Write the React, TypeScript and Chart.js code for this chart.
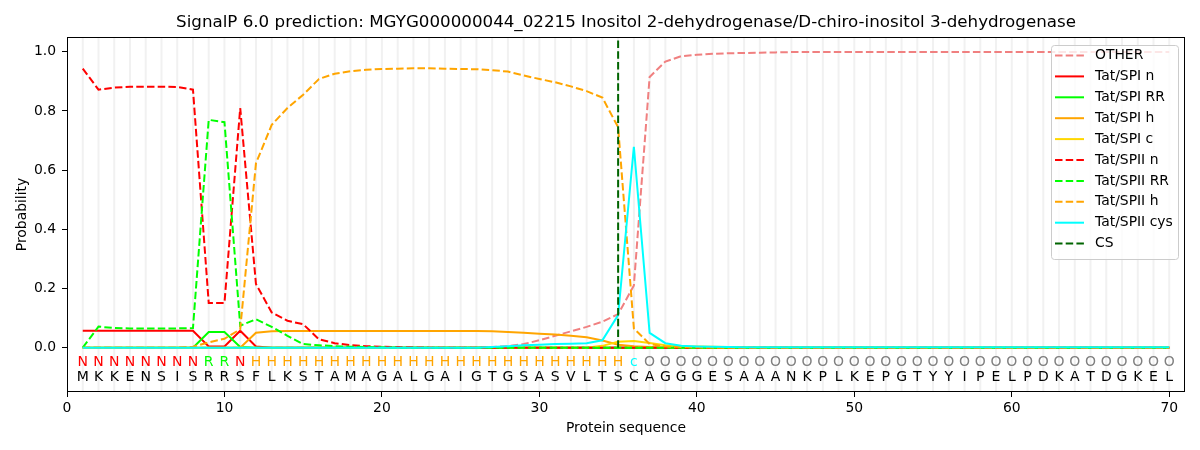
import { useEffect, useRef } from "react";
import { Chart, registerables } from "chart.js";

Chart.register(...registerables);

const FONT = "'DejaVu Sans', sans-serif";

const title =
  "SignalP 6.0 prediction: MGYG000000044_02215 Inositol 2-dehydrogenase/D-chiro-inositol 3-dehydrogenase";

// sequence position 1..70
const positions = Array.from({ length: 70 }, (_, i) => i + 1);

const residues = "MKKENSISRRSFLKSTAMAGALGAIGTGSASVLTSCAGGGESAAANKPLKEPGTYYIPELPDKATDGKEL".split("");
const regionLabels = (
  "NNNNNNNN" + "RR" + "N" + "HHHHHHHHHHHH" + "HHHHHHHHHHHH" + "c" +
  "OOOOOOOOOO" + "OOOOOOOOOO" + "OOOOOOOOOO" + "OOOO"
).split("");

const xTickValues = [0, 10, 20, 30, 40, 50, 60, 70];
const yTickValues = [0, 0.2, 0.4, 0.6, 0.8, 1.0];
const csPosition = 35;

const other = [
  0, 0, 0, 0, 0, 0, 0, 0, 0, 0,
  0, 0, 0, 0, 0, 0, 0, 0, 0, 0,
  0, 0, 0, 0, 0, 0, 0.002, 0.005, 0.012, 0.025,
  0.04, 0.055, 0.07, 0.088, 0.113, 0.21, 0.915, 0.967, 0.985, 0.99,
  0.993, 0.995, 0.996, 0.997, 0.998, 0.999, 0.999, 0.999, 0.999, 0.999,
  0.999, 0.999, 0.999, 0.999, 0.999, 0.999, 0.999, 0.999, 0.999, 0.999,
  0.999, 0.999, 0.999, 0.999, 0.999, 0.999, 0.999, 0.999, 0.999, 0.999,
];
const spiN = [
  0.057, 0.057, 0.057, 0.057, 0.057, 0.057, 0.057, 0.057, 0.004, 0.004,
  0.057, 0.004, 0, 0, 0, 0, 0, 0, 0, 0,
  0, 0, 0, 0, 0, 0, 0, 0, 0, 0,
  0, 0, 0, 0, 0, 0, 0, 0, 0, 0,
  0, 0, 0, 0, 0, 0, 0, 0, 0, 0,
  0, 0, 0, 0, 0, 0, 0, 0, 0, 0,
  0, 0, 0, 0, 0, 0, 0, 0, 0, 0,
];
const spiRR = [
  0, 0, 0, 0, 0, 0, 0, 0, 0.053, 0.053,
  0.002, 0, 0, 0, 0, 0, 0, 0, 0, 0,
  0, 0, 0, 0, 0, 0, 0, 0, 0, 0,
  0, 0, 0, 0, 0, 0, 0, 0, 0, 0,
  0, 0, 0, 0, 0, 0, 0, 0, 0, 0,
  0, 0, 0, 0, 0, 0, 0, 0, 0, 0,
  0, 0, 0, 0, 0, 0, 0, 0, 0, 0,
];
const spiH = [
  0, 0, 0, 0, 0, 0, 0, 0, 0, 0,
  0, 0.05, 0.055, 0.056, 0.056, 0.056, 0.056, 0.056, 0.056, 0.056,
  0.056, 0.056, 0.056, 0.056, 0.056, 0.056, 0.055, 0.053, 0.05, 0.047,
  0.044, 0.04, 0.035, 0.024, 0.01, 0.005, 0.002, 0, 0, 0,
  0, 0, 0, 0, 0, 0, 0, 0, 0, 0,
  0, 0, 0, 0, 0, 0, 0, 0, 0, 0,
  0, 0, 0, 0, 0, 0, 0, 0, 0, 0,
];
const spiC = [
  0, 0, 0, 0, 0, 0, 0, 0, 0, 0,
  0, 0, 0, 0, 0, 0, 0, 0, 0, 0,
  0, 0, 0, 0, 0, 0, 0, 0, 0, 0,
  0, 0, 0, 0.006, 0.02, 0.022, 0.016, 0.008, 0.005, 0.004,
  0.003, 0.002, 0.001, 0.001, 0.001, 0.001, 0.001, 0.001, 0.001, 0.001,
  0.001, 0.001, 0.001, 0.001, 0.001, 0.001, 0.001, 0.001, 0.001, 0.001,
  0.001, 0.001, 0.001, 0.001, 0.001, 0.001, 0.001, 0.001, 0.001, 0.001,
];
const spiiN = [
  0.943, 0.872, 0.879, 0.882, 0.882, 0.882, 0.881, 0.872, 0.151, 0.151,
  0.81, 0.215, 0.119, 0.091, 0.079, 0.028, 0.015, 0.008, 0.005, 0.003,
  0.002, 0.001, 0, 0, 0, 0, 0, 0, 0, 0,
  0, 0, 0, 0, 0, 0, 0, 0, 0, 0,
  0, 0, 0, 0, 0, 0, 0, 0, 0, 0,
  0, 0, 0, 0, 0, 0, 0, 0, 0, 0,
  0, 0, 0, 0, 0, 0, 0, 0, 0, 0,
];
const spiiRR = [
  0, 0.071, 0.066, 0.065, 0.065, 0.065, 0.065, 0.066, 0.77, 0.762,
  0.074, 0.096, 0.07, 0.04, 0.012, 0.008, 0.005, 0.003, 0.002, 0.001,
  0, 0, 0, 0, 0, 0, 0, 0, 0, 0,
  0, 0, 0, 0, 0, 0, 0, 0, 0, 0,
  0, 0, 0, 0, 0, 0, 0, 0, 0, 0,
  0, 0, 0, 0, 0, 0, 0, 0, 0, 0,
  0, 0, 0, 0, 0, 0, 0, 0, 0, 0,
];
const spiiH = [
  0, 0, 0, 0, 0, 0, 0, 0.003, 0.018, 0.03,
  0.062, 0.623, 0.753, 0.81, 0.855, 0.908, 0.926, 0.934, 0.939, 0.942,
  0.943, 0.944, 0.944, 0.943, 0.942, 0.941, 0.938, 0.933, 0.92, 0.908,
  0.897, 0.883, 0.867, 0.845, 0.745, 0.065, 0.012, 0.004, 0.002, 0.001,
  0, 0, 0, 0, 0, 0, 0, 0, 0, 0,
  0, 0, 0, 0, 0, 0, 0, 0, 0, 0,
  0, 0, 0, 0, 0, 0, 0, 0, 0, 0,
];
const spiiCys = [
  0, 0, 0, 0, 0, 0, 0, 0, 0, 0,
  0, 0, 0, 0, 0, 0, 0, 0, 0, 0,
  0, 0, 0, 0, 0, 0, 0.002, 0.005, 0.008, 0.01,
  0.012, 0.013, 0.015, 0.025, 0.11, 0.679, 0.05, 0.015, 0.006, 0.004,
  0.003, 0.002, 0.001, 0.001, 0.001, 0.001, 0.001, 0.001, 0.001, 0.001,
  0.001, 0.001, 0.001, 0.001, 0.001, 0.001, 0.001, 0.001, 0.001, 0.001,
  0.001, 0.001, 0.001, 0.001, 0.001, 0.001, 0.001, 0.001, 0.001, 0.001,
];

const DASH = [7.5, 3.2];

const labelColors: { [k: string]: string } = {
  N: "#ff0000",
  R: "#00ff00",
  H: "#ffa500",
  c: "#00ffff",
  O: "#808080",
};

function series(label: string, values: number[], color: string, dashed: boolean) {
  return {
    label,
    data: positions.map((p, i) => ({ x: p, y: values[i] })),
    borderColor: color,
    borderDash: dashed ? DASH : [],
    borderWidth: 2,
    pointRadius: 0,
    tension: 0,
    fill: false,
  };
}

const decorations = {
  id: "decorations",
  beforeDatasetsDraw(chart: any) {
    const { ctx, chartArea, scales } = chart;
    ctx.save();
    ctx.strokeStyle = "#f1f1f1";
    ctx.lineWidth = 2;
    for (const p of positions) {
      const px = scales.x.getPixelForValue(p);
      ctx.beginPath();
      ctx.moveTo(px, chartArea.top);
      ctx.lineTo(px, chartArea.bottom);
      ctx.stroke();
    }
    ctx.restore();
  },
  afterDatasetsDraw(chart: any) {
    const { ctx, chartArea, scales } = chart;
    ctx.save();

    // region letters + residues
    ctx.textAlign = "center";
    ctx.textBaseline = "middle";
    ctx.font = `14px ${FONT}`;
    positions.forEach((p, i) => {
      const px = scales.x.getPixelForValue(p);
      ctx.fillStyle = labelColors[regionLabels[i]] || "#808080";
      ctx.fillText(regionLabels[i], px, scales.y.getPixelForValue(-0.049));
      ctx.fillStyle = "#000000";
      ctx.fillText(residues[i], px, scales.y.getPixelForValue(-0.1));
    });

    // frame
    ctx.strokeStyle = "#000000";
    ctx.lineWidth = 1;
    ctx.setLineDash([]);
    ctx.strokeRect(chartArea.left + 0.5, chartArea.top + 0.5, chartArea.width - 1, chartArea.height - 1);

    // title
    ctx.font = `16.7px ${FONT}`;
    ctx.fillStyle = "#000000";
    ctx.textAlign = "center";
    ctx.textBaseline = "middle";
    ctx.fillText(title, (chartArea.left + chartArea.right) / 2, 23);

    // legend
    const w = 127;
    const h = 214;
    const lx = chartArea.right - 7 - w;
    const ly = chartArea.top + 8;
    ctx.beginPath();
    ctx.roundRect(lx + 0.5, ly + 0.5, w, h, 3);
    ctx.fillStyle = "rgba(255,255,255,0.8)";
    ctx.fill();
    ctx.strokeStyle = "#cccccc";
    ctx.stroke();
    ctx.font = `13.9px ${FONT}`;
    ctx.textAlign = "left";
    chart.data.datasets.forEach((ds: any, i: number) => {
      const cy = ly + 10.5 + i * 20.9;
      ctx.strokeStyle = ds.borderColor;
      ctx.lineWidth = 2;
      ctx.setLineDash(ds.borderDash || []);
      ctx.beginPath();
      ctx.moveTo(lx + 4, cy);
      ctx.lineTo(lx + 33, cy);
      ctx.stroke();
      ctx.setLineDash([]);
      ctx.fillStyle = "#000000";
      ctx.fillText(ds.label, lx + 44, cy);
    });

    ctx.restore();
  },
};

export default function App() {
  const canvasRef = useRef<HTMLCanvasElement>(null);

  useEffect(() => {
    const ctx = canvasRef.current?.getContext("2d");
    if (!ctx) return;

    const datasets: any[] = [
      series("OTHER", other, "#f08080", true),
      series("Tat/SPI n", spiN, "#ff0000", false),
      series("Tat/SPI RR", spiRR, "#00ff00", false),
      series("Tat/SPI h", spiH, "#ffa500", false),
      series("Tat/SPI c", spiC, "#ffd700", false),
      series("Tat/SPII n", spiiN, "#ff0000", true),
      series("Tat/SPII RR", spiiRR, "#00ff00", true),
      series("Tat/SPII h", spiiH, "#ffa500", true),
      series("Tat/SPII cys", spiiCys, "#00ffff", false),
      {
        label: "CS",
        data: [
          { x: csPosition, y: 0 },
          { x: csPosition, y: 1.05 },
        ],
        borderColor: "#006400",
        borderDash: DASH,
        borderWidth: 2,
        pointRadius: 0,
        fill: false,
      },
    ];
    datasets.forEach((d, i) => (d.order = datasets.length - i));

    const chart = new Chart(ctx, {
      type: "line",
      data: { datasets },
      plugins: [decorations],
      options: {
        responsive: true,
        maintainAspectRatio: false,
        animation: false,
        layout: { padding: { top: 37, right: 15, left: 0, bottom: 0 } },
        plugins: {
          legend: { display: false },
          tooltip: { enabled: false },
          title: { display: false },
        },
        scales: {
          x: {
            type: "linear",
            min: 0,
            max: 71,
            afterBuildTicks: (scale: any) => {
              scale.ticks = xTickValues.map((v) => ({ value: v }));
            },
            ticks: {
              color: "#000000",
              font: { family: FONT, size: 13.9 },
              padding: 3,
              maxRotation: 0,
              autoSkip: false,
            },
            grid: { drawOnChartArea: false, tickLength: 5, tickColor: "#000000" },
            border: { display: false },
            title: {
              display: true,
              text: "Protein sequence",
              color: "#000000",
              font: { family: FONT, size: 13.9 },
              padding: { top: 0, bottom: 13 },
            },
            afterFit: (scale: any) => {
              scale.height = 58;
            },
          },
          y: {
            type: "linear",
            min: -0.15,
            max: 1.05,
            afterBuildTicks: (scale: any) => {
              scale.ticks = yTickValues.map((v) => ({ value: v }));
            },
            ticks: {
              color: "#000000",
              font: { family: FONT, size: 13.9 },
              padding: 6,
              callback: (v: any) => Number(v).toFixed(1),
            },
            grid: { drawOnChartArea: false, tickLength: 5, tickColor: "#000000" },
            border: { display: false },
            title: {
              display: true,
              text: "Probability",
              color: "#000000",
              font: { family: FONT, size: 13.9 },
              padding: { top: 14, bottom: 0 },
            },
            afterFit: (scale: any) => {
              scale.width = 67;
            },
          },
        },
      },
    });

    return () => chart.destroy();
  }, []);

  return (
    <div style={{ position: "fixed", left: 0, top: 0, width: 1200, height: 450, background: "#ffffff" }}>
      <canvas ref={canvasRef} />
    </div>
  );
}
